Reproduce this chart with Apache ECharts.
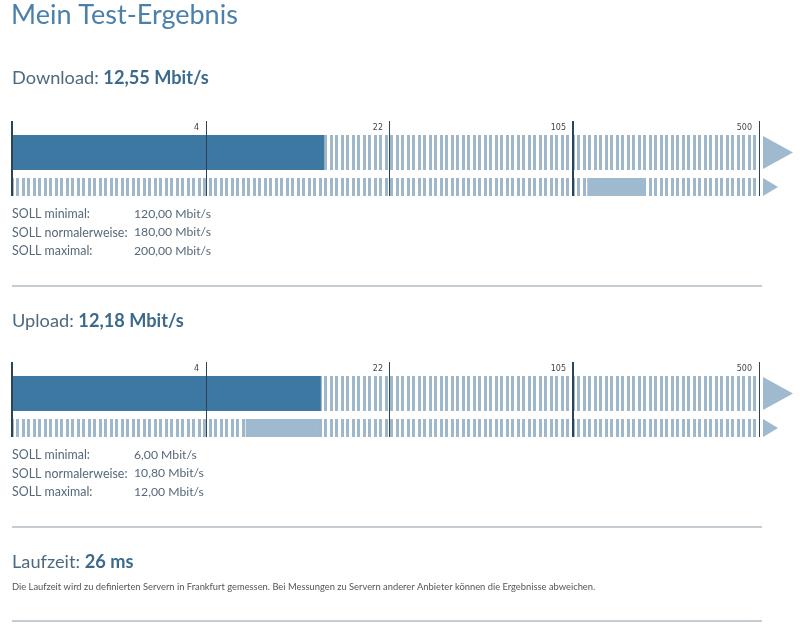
<!DOCTYPE html>
<html>
<head>
<meta charset="utf-8">
<script src="https://cdn.jsdelivr.net/npm/echarts@6/dist/echarts.min.js"></script>
<style>
html,body{margin:0;padding:0;background:#fff;}
#chart{width:800px;height:632px;}
</style>
</head>
<body>
<div id="chart"></div>
<script>
// ---- data ----
const tickValues = [0, 4, 22, 105, 500];
const tickLabels = ['', '4', '22', '105', '500'];
// position of each tick on the bar (in axis units, 0..4)
const tickPos = [0, 1.039, 2.024, 3.004, 4];
const sollLabels = ['SOLL minimal:', 'SOLL normalerweise:', 'SOLL maximal:'];
const downloadValue = 12.55;
const downloadSoll = [120.00, 180.00, 200.00];
const uploadValue = 12.18;
const uploadSoll = [6.00, 10.80, 12.00];
const latencyMs = 26;
const titleText = 'Mein Test-Ergebnis';
const latencyNote = 'Die Laufzeit wird zu definierten Servern in Frankfurt gemessen. Bei Messungen zu Servern anderer Anbieter können die Ergebnisse abweichen.';

// piecewise scale: first segment linear, others compressed (power 0.15, near-logarithmic)
const P = 0.15;
function toPos(v) {
  for (let i = 0; i < tickValues.length - 1; i++) {
    const a = tickValues[i], b = tickValues[i + 1];
    if (v <= b) {
      const f = (i === 0) ? v / b : (Math.pow(v, P) - Math.pow(a, P)) / (Math.pow(b, P) - Math.pow(a, P));
      return tickPos[i] + f * (tickPos[i + 1] - tickPos[i]);
    }
  }
  return tickPos[tickPos.length - 1];
}
const maxPos = tickPos[tickPos.length - 1];
function fmt(v) { return v.toFixed(2).replace('.', ',') + ' Mbit/s'; }

// stripe pattern
const pc = document.createElement('canvas');
pc.width = 11; pc.height = 4;
const pctx = pc.getContext('2d');
pctx.fillStyle = '#ffffff'; pctx.fillRect(0, 0, 11, 4);
pctx.fillStyle = '#9fb7cb';
pctx.fillRect(0, 0, 3, 4);
pctx.fillRect(5, 0, 3, 4);
const stripe = { image: pc, repeat: 'repeat' };

const DARK = '#3d78a3';
const LIGHT = '#9fb9cf';
const TICK = '#2b4456';
const FONT = 'Lato';

const charts = [
  { value: downloadValue, soll: downloadSoll, top: 121 },
  { value: uploadValue, soll: uploadSoll, top: 362 }
];

const grid = [], xAxis = [], yAxis = [], series = [];
const L = 12, W = 747;
charts.forEach((c, k) => {
  const gi = 3 * k;
  grid.push({ left: L, width: W, top: c.top + 14, height: 35 });
  grid.push({ left: L, width: W, top: c.top + 57, height: 18 });
  grid.push({ left: L, width: W, top: c.top, height: 75 });
  for (let j = 0; j < 3; j++) {
    const isTick = j === 2;
    xAxis.push({
      type: 'value', gridIndex: gi + j, min: 0, max: maxPos,
      show: isTick, position: 'top',
      axisLine: { show: false }, axisTick: { show: false }, splitLine: { show: false },
      axisLabel: {
        show: isTick, inside: true, margin: 3, align: 'right', verticalAlign: 'top',
        padding: [0, 7, 0, 0], fontSize: 8, color: '#444', fontFamily: 'DejaVu Sans',
        customValues: tickPos.slice(1),
        formatter: (v) => { const i = tickPos.indexOf(v); return i > 0 ? tickLabels[i] : ''; }
      }
    });
    yAxis.push({ type: 'category', gridIndex: gi + j, data: ['x'], show: false });
  }
  // upper bar: stripes + dark value bar
  series.push({ type: 'bar', xAxisIndex: gi, yAxisIndex: gi, data: [maxPos], barWidth: '100%', barGap: '-100%',
    itemStyle: { color: stripe }, silent: true, z: 1 });
  series.push({ type: 'bar', xAxisIndex: gi, yAxisIndex: gi, data: [toPos(c.value)], barWidth: '100%', barGap: '-100%',
    itemStyle: { color: DARK }, silent: true, z: 2 });
  // lower bar: stripes + soll range
  series.push({ type: 'bar', xAxisIndex: gi + 1, yAxisIndex: gi + 1, data: [maxPos], barWidth: '100%', barGap: '-100%',
    itemStyle: { color: stripe }, silent: true, z: 1 });
  series.push({ type: 'bar', xAxisIndex: gi + 1, yAxisIndex: gi + 1, stack: 's' + k, data: [toPos(c.soll[0])], barWidth: '100%', barGap: '-100%',
    itemStyle: { color: 'rgba(0,0,0,0)' }, silent: true, z: 2 });
  series.push({ type: 'bar', xAxisIndex: gi + 1, yAxisIndex: gi + 1, stack: 's' + k, data: [toPos(c.soll[2]) - toPos(c.soll[0])], barWidth: '100%', barGap: '-100%',
    itemStyle: { color: LIGHT }, silent: true, z: 2 });
  // tick lines
  series.push({ type: 'bar', xAxisIndex: gi + 2, yAxisIndex: gi + 2, data: [], z: 10, silent: true,
    markLine: {
      silent: true, symbol: 'none', animation: false, label: { show: false },
      data: tickPos.map((t, i) => ({ xAxis: t, lineStyle: { color: TICK, type: 'solid', width: (i === 0 || i === 3) ? 2 : 1 } }))
    }
  });
});

const graphic = [];
function txt(x, y, text, style) {
  graphic.push({ type: 'text', left: x, top: y, silent: true,
    style: Object.assign({ text: text, fontFamily: FONT, fill: '#555', verticalAlign: 'top' }, style) });
}
txt(11, 2, titleText, { fontSize: 27, fill: '#4a80ab' });

function heading(y, label, value) {
  graphic.push({ type: 'text', left: 12, top: y, silent: true,
    style: { text: '{a|' + label + ' }{b|' + value + '}', fontFamily: FONT,
      rich: { a: { fontSize: 18.2, fill: '#4d6980', fontFamily: FONT }, b: { fontSize: 18.2, fontWeight: 'bold', fill: '#3c6a8c', fontFamily: FONT } } } });
}
heading(69, 'Download:', fmt(downloadValue));
heading(312, 'Upload:', fmt(uploadValue));
heading(553, 'Laufzeit:', latencyMs + ' ms');

function soll(y0, vals) {
  sollLabels.forEach((s, i) => {
    txt(12, y0 + i * 18.5, s, { fontSize: 12.4, fill: '#56687a' });
    txt(134, y0 + i * 18.5, fmt(vals[i]), { fontSize: 12.2, fill: '#56687a' });
  });
}
soll(208, downloadSoll);
soll(449, uploadSoll);
txt(12, 582, latencyNote, { fontSize: 9.35, fill: '#555' });

[286, 527, 621].forEach(y => {
  graphic.push({ type: 'line', silent: true, shape: { x1: 12, y1: y, x2: 762, y2: y },
    style: { stroke: '#8a9aa5', lineWidth: 1 } });
});

const chart = echarts.init(document.getElementById('chart'), null, { renderer: 'canvas' });
chart.setOption({ animation: false, grid, xAxis, yAxis, series, graphic });

// arrows at the end of each bar
const arrows = [];
charts.forEach((c, k) => {
  const gi = 3 * k;
  const xEnd = chart.convertToPixel({ xAxisIndex: gi }, maxPos);
  const gU = grid[gi], gL = grid[gi + 1];
  arrows.push({ type: 'polygon', silent: true, shape: { points: [[xEnd + 4, gU.top + 1], [xEnd + 34, gU.top + gU.height / 2], [xEnd + 4, gU.top + gU.height - 1]] }, style: { fill: LIGHT } });
  arrows.push({ type: 'polygon', silent: true, shape: { points: [[xEnd + 4, gL.top], [xEnd + 19, gL.top + gL.height / 2], [xEnd + 4, gL.top + gL.height]] }, style: { fill: LIGHT } });
});
chart.setOption({ graphic: graphic.concat(arrows) });
</script>
</body>
</html>
